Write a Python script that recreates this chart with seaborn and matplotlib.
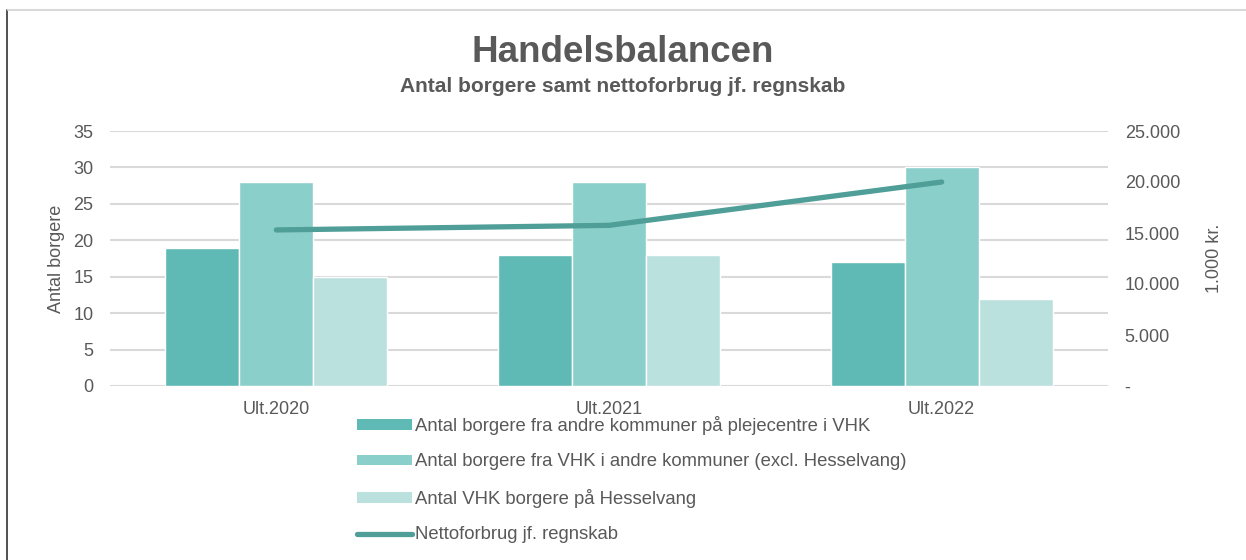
import pandas as pd
import seaborn as sns
import matplotlib.pyplot as plt
from matplotlib.patches import Patch
from matplotlib.lines import Line2D

# data
years = ['Ult.2020', 'Ult.2021', 'Ult.2022']
fra_andre = [19, 18, 17]
vhk_andre = [28, 28, 30]
hesselvang = [15, 18, 12]
netto = [15300, 15750, 20000]

series_names = [
    'Antal borgere fra andre kommuner på plejecentre i VHK',
    'Antal borgere fra VHK i andre kommuner (excl. Hesselvang)',
    'Antal VHK borgere på Hesselvang',
]
line_name = 'Nettoforbrug jf. regnskab'
bar_colors = ['#5FB9B4', '#8BCFCA', '#BBE1DF']
line_color = '#4F9E98'
txt = '#595959'
fs = 13

rows = []
for name, vals in zip(series_names, [fra_andre, vhk_andre, hesselvang]):
    for y, v in zip(years, vals):
        rows.append({'year': y, 'serie': name, 'antal': v})
df = pd.DataFrame(rows)
df_line = pd.DataFrame({'year': years, 'netto': netto})

sns.set_theme(style='white')
plt.rcParams['font.family'] = ['Liberation Sans', 'DejaVu Sans']

fig = plt.figure(figsize=(12.46, 5.6), dpi=100)
ax = fig.add_axes([110 / 1246, 1 - 386 / 560, 998 / 1246, 255 / 560])

sns.barplot(data=df, x='year', y='antal', hue='serie', palette=bar_colors,
            width=0.667, saturation=1, ax=ax, legend=False)
ax.set_xlim(-0.5, 2.5)
ax.set_ylim(0, 35)
ax.set_yticks(range(0, 36, 5))
ax.yaxis.grid(True, color='#D9D9D9', linewidth=1.5)
ax.set_axisbelow(True)
for s in ax.spines.values():
    s.set_visible(False)
ax.tick_params(axis='both', length=0, labelsize=fs, labelcolor=txt)
ax.tick_params(axis='x', pad=11)
ax.tick_params(axis='y', pad=12)
ax.set_xlabel('')
ax.set_ylabel('Antal borgere', fontsize=fs, color=txt, labelpad=6)

ax2 = ax.twinx()
sns.lineplot(data=df_line, x='year', y='netto', color=line_color, linewidth=3.8,
             ax=ax2, solid_capstyle='round', solid_joinstyle='round', sort=False)
ax2.set_ylim(0, 25000)
ax2.set_yticks(range(0, 25001, 5000))
ax2.set_yticklabels(['-' if v == 0 else f'{v:,}'.replace(',', '.') for v in range(0, 25001, 5000)])
for s in ax2.spines.values():
    s.set_visible(False)
ax2.tick_params(axis='y', length=0, labelsize=fs, labelcolor=txt, pad=12)
ax2.set_ylabel('1.000 kr.', fontsize=fs, color=txt, labelpad=19)
ax2.set_xlabel('')

fig.text(0.5, 1 - 53 / 560, 'Handelsbalancen', ha='center', va='center',
         fontsize=26.5, fontweight='bold', color=txt)
fig.text(0.5, 1 - 87 / 560, 'Antal borgere samt nettoforbrug jf. regnskab', ha='center',
         va='center', fontsize=15, fontweight='bold', color=txt)

handles = [Patch(facecolor=c, edgecolor='none') for c in bar_colors]
handles.append(Line2D([0], [0], color=line_color, linewidth=3.8, solid_capstyle='round'))
fig.legend(handles, series_names + [line_name], loc='upper left',
           bbox_to_anchor=(357 / 1246, 1 - 416 / 560), frameon=False, ncol=1,
           fontsize=13.3, labelcolor=txt, handlelength=3.0, handleheight=0.5,
           handletextpad=0.12, labelspacing=1.0, borderpad=0, borderaxespad=0)

# frame lines of the original screenshot
fig.add_artist(Line2D([7 / 1246, 7 / 1246], [0, 1 - 10 / 560], color='#333333',
                      linewidth=1.2, transform=fig.transFigure))
fig.add_artist(Line2D([8 / 1246, 1], [1 - 10 / 560, 1 - 10 / 560], color='#D9D9D9',
                      linewidth=1.5, transform=fig.transFigure))

fig.savefig('out.png', dpi=100)
